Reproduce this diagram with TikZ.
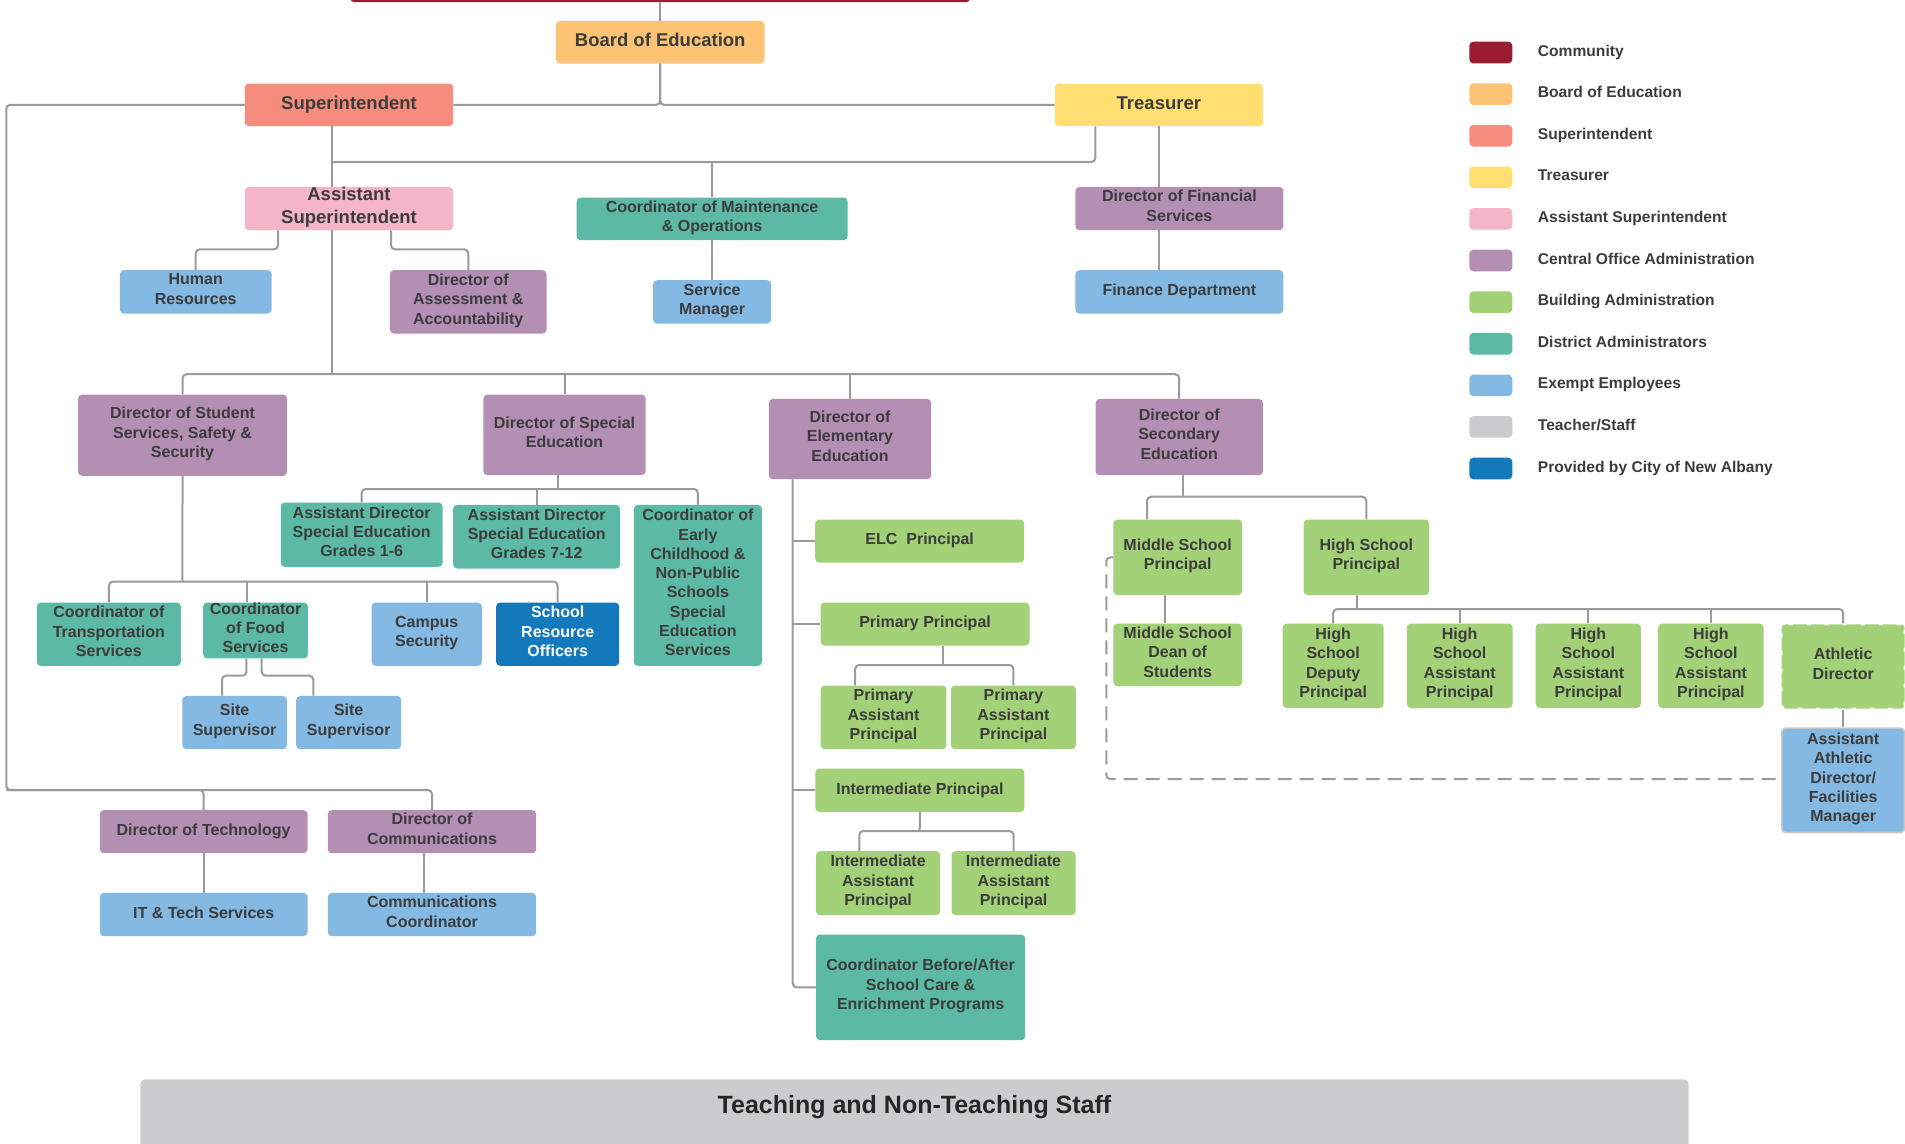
\documentclass[tikz,border=0pt]{standalone}
\usepackage{fontspec}
\setmainfont{Liberation Sans}
\usetikzlibrary{calc}
\definecolor{ccomm}{HTML}{9B1B30}
\definecolor{cboard}{HTML}{FCC374}
\definecolor{csup}{HTML}{F58C7E}
\definecolor{ctre}{HTML}{FFDF71}
\definecolor{casst}{HTML}{F4B6C7}
\definecolor{ccent}{HTML}{B28FB3}
\definecolor{cbld}{HTML}{A3D177}
\definecolor{cdist}{HTML}{5CB9A5}
\definecolor{cex}{HTML}{84B9E3}
\definecolor{cteach}{HTML}{CBCCCD}
\definecolor{ccity}{HTML}{1379BB}
\definecolor{lgray}{HTML}{9A9A9C}
\definecolor{txt}{HTML}{3C3C3C}
\newcommand\ob[7]{\pgfmathsetmacro\obw{#5-#3}\pgfmathsetmacro\obh{#6-#4}%
  \node[box,#2,minimum width=\obw pt,minimum height=\obh pt,anchor=north west] (#1) at (#3,#4) {#7};}
\begin{document}
\begin{tikzpicture}[x=1pt,y=-1pt,
  box/.style={rounded corners=4pt,inner sep=0pt,align=center,text=txt,font=\fontsize{16}{19.3}\selectfont\bfseries,
    execute at begin node=\strut, execute at end node=\strut},
  big/.style={font=\fontsize{18.5}{22.3}\selectfont\bfseries},
  conn/.style={draw=lgray,line width=2pt,rounded corners=4pt},
  dashline/.style={draw=lgray,line width=2pt,rounded corners=4pt,dash pattern=on 14pt off 8pt},
  legtxt/.style={anchor=west,inner sep=0pt,text=txt,font=\fontsize{15.6}{18}\selectfont\bfseries,
    execute at begin node=\strut}]
\useasboundingbox (0,0) rectangle (1905,1143);
% community bar
\node[fill=ccomm,rounded corners=4pt,inner sep=0pt,minimum width=620pt,minimum height=8pt,anchor=north west] (comm) at (350,-6) {};
% top level
\ob{board}{fill=cboard,big}{555.7}{20.7}{764.3}{63.3}{Board of Education}
\ob{sup}{fill=csup,big}{244.6}{83.3}{453}{126}{Superintendent}
\ob{tre}{fill=ctre,big}{1054.6}{83.3}{1262.7}{126}{Treasurer}
\ob{asup}{fill=casst,big}{244.6}{186.7}{453}{230}{Assistant\\Superintendent}
\ob{maint}{fill=cdist}{576.3}{197.3}{847.5}{240}{Coordinator of Maintenance\\\& Operations}
\ob{dirfin}{fill=ccent}{1075.2}{186.7}{1283.2}{230}{Director of Financial\\Services}
\ob{hr}{fill=cex}{119.6}{270}{271.4}{313.3}{Human\\Resources}
\ob{dira}{fill=ccent}{389.7}{270}{546.4}{333.3}{Director of\\Assessment \&\\Accountability}
\ob{svc}{fill=cex}{652.8}{280}{771}{323.3}{Service\\Manager}
\ob{fin}{fill=cex}{1075.2}{270}{1283.2}{313.3}{Finance Department}
% directors
\ob{dss}{fill=ccent}{78}{394.3}{286.7}{475.7}{Director of Student\\Services, Safety \&\\Security}
\ob{dsped}{fill=ccent}{483.2}{394.3}{645.4}{475}{Director of Special\\Education}
\ob{delem}{fill=ccent}{768.6}{398.7}{931}{479}{Director of\\Elementary\\Education}
\ob{dsec}{fill=ccent}{1095.3}{398.7}{1262.7}{475}{Director of\\Secondary\\Education}
% special ed / student services
\ob{ad16}{fill=cdist}{280.6}{502.3}{442.3}{566.7}{Assistant Director\\Special Education\\Grades 1-6}
\ob{ad712}{fill=cdist}{453}{504.7}{619.9}{568.3}{Assistant Director\\Special Education\\Grades 7-12}
\ob{ec}{fill=cdist}{633.7}{504.7}{761.7}{665.7}{Coordinator of\\Early\\Childhood \&\\Non-Public\\Schools\\Special\\Education\\Services}
\ob{trans}{fill=cdist}{36.7}{602.3}{180.6}{665.7}{Coordinator of\\Transportation\\Services}
\ob{food}{fill=cdist}{203}{602.3}{307.7}{655.7}{Coordinator\\of Food\\Services}
\ob{camp}{fill=cex}{371.4}{602.3}{481.6}{665.7}{Campus\\Security}
\ob{sro}{fill=ccity,text=white}{496}{602.3}{619}{665.7}{School\\Resource\\Officers}
\ob{site1}{fill=cex}{182.1}{695.7}{286.7}{749}{Site\\Supervisor}
\ob{site2}{fill=cex}{296}{695.7}{401}{749}{Site\\Supervisor}
% elementary
\ob{elc}{fill=cbld}{815}{519.3}{1024}{562.3}{ELC~~Principal}
\ob{prim}{fill=cbld}{820.4}{602.3}{1029.3}{645.3}{Primary Principal}
\ob{pap1}{fill=cbld}{820.4}{685.3}{946.2}{749}{Primary\\Assistant\\Principal}
\ob{pap2}{fill=cbld}{950.7}{685.3}{1075.7}{749}{Primary\\Assistant\\Principal}
\ob{int}{fill=cbld}{815.2}{768.3}{1024.2}{811.7}{Intermediate Principal}
\ob{iap1}{fill=cbld}{815.8}{851}{940}{915}{Intermediate\\Assistant\\Principal}
\ob{iap2}{fill=cbld}{951.3}{851}{1075.4}{915}{Intermediate\\Assistant\\Principal}
\ob{cba}{fill=cdist}{815.8}{934.3}{1025}{1040}{Coordinator Before/After\\School Care \&\\Enrichment Programs}
% secondary
\ob{msp}{fill=cbld}{1113.2}{519.3}{1241.8}{595}{Middle School\\Principal}
\ob{hsp}{fill=cbld}{1303.4}{519.3}{1428.8}{595}{High School\\Principal}
\ob{msd}{fill=cbld}{1113.2}{623.3}{1241.8}{686}{Middle School\\Dean of\\Students}
\ob{hsd}{fill=cbld}{1282.5}{623.3}{1383.5}{707.7}{High\\School\\Deputy\\Principal}
\ob{hs1}{fill=cbld}{1406.6}{623.3}{1512.4}{707.7}{High\\School\\Assistant\\Principal}
\ob{hs2}{fill=cbld}{1535.5}{623.3}{1640.7}{707.7}{High\\School\\Assistant\\Principal}
\ob{hs3}{fill=cbld}{1658}{623.3}{1763.3}{707.7}{High\\School\\Assistant\\Principal}
\ob{ad}{fill=cbld,draw=white,line width=2pt,dash pattern=on 4pt off 14pt}{1780.6}{623.3}{1903.7}{707.7}{Athletic\\Director}
\ob{aad}{fill=cex,draw=black!22,line width=1.6pt}{1781}{727.3}{1903.7}{831.7}{Assistant\\Athletic\\Director/\\Facilities\\Manager}
% technology / communications
\ob{dtech}{fill=ccent}{99.6}{810}{307.3}{853}{Director of Technology}
\ob{dcomm}{fill=ccent}{327.6}{810}{536}{853}{Director of\\Communications}
\ob{it}{fill=cex}{99.6}{892.7}{307.3}{936}{IT \& Tech Services}
\ob{cc}{fill=cex}{327.6}{892.7}{536}{936}{Communications\\Coordinator}
% staff bar
\fill[cteach,rounded corners=5pt] (140.3,1079.3) rectangle (1688.7,1165);
\node[text=black!85,font=\fontsize{25}{30}\selectfont\bfseries] (staff) at (914.5,1107.5) {Teaching and Non-Teaching Staff};
% legend
\foreach \c/\t [count=\i from 0] in {ccomm/{Community},cboard/{Board of Education},csup/{Superintendent},ctre/{Treasurer},casst/{Assistant Superintendent},ccent/{Central Office Administration},cbld/{Building Administration},cdist/{District Administrators},cex/{Exempt Employees},cteach/{Teacher/Staff},ccity/{Provided by City of New Albany}}{
  \pgfmathsetmacro\ly{52.5+41.6*\i}
  \node[fill=\c,rounded corners=4pt,minimum width=43pt,minimum height=21.6pt,inner sep=0pt] (lg\i) at (1490.8,\ly) {};
  \node[legtxt] (lt\i) at (1537.7,\ly) {\t};
}
% junction coordinates
\coordinate (jA) at (331.7,162);
\coordinate (jT) at (1095.3,162);
\coordinate (jB) at (331.7,374.2);
\coordinate (jH) at (278,249.3);
\coordinate (jD) at (391,249.3);
\coordinate (jL) at (6.25,790);
\coordinate (jC) at (423.7,0);
\coordinate (jS) at (182.35,581.7);
\coordinate (xFood) at (247.4,0);
\coordinate (jF1) at (246.4,675.7);
\coordinate (jF2) at (261.7,675.7);
\coordinate (xS1) at (222,0);
\coordinate (xS2) at (313.3,0);
\coordinate (jSP) at (557.7,489);
\coordinate (jE) at (792.7,0);
\coordinate (jP) at (942.7,665);
\coordinate (xPA) at (855.2,0);
\coordinate (jI) at (919.7,831);
\coordinate (xIA) at (859.3,0);
\coordinate (jSec) at (1183.3,496.7);
\coordinate (xMS) at (1147.1,0);
\coordinate (jMD) at (1165.4,0);
\coordinate (jHS) at (1356.7,609);
\coordinate (jDash) at (1106.3,779);
% connectors
\draw[conn] (comm.south) -- (board.north);
\draw[conn] (board.south) |- (sup.east);
\draw[conn] (board.south) |- (tre.west);
\draw[conn] (sup.west) -| (jL) -| (dcomm.north);
\draw[conn] (dtech.north) |- (jL);
\draw[conn] (dtech.south) -- (it.north);
\draw[conn] (dcomm.south -| jC) -- (cc.north -| jC);
\draw[conn] (sup.south -| jA) -- (asup.north -| jA);
\draw[conn] (jA) -- (jT) -- (tre.south -| jT);
\draw[conn] (maint.north) -- (maint.north |- jA);
\draw[conn] (maint.south) -- (svc.north);
\draw[conn] (tre.south) -- (tre.south |- dirfin.north);
\draw[conn] (dirfin.south -| tre.south) -- (fin.north -| tre.south);
\draw[conn] (asup.south -| jH) -- (jH) -| (hr.north);
\draw[conn] (asup.south -| jD) -- (jD) -| (dira.north);
\draw[conn] (asup.south -| jB) -- (jB);
\draw[conn] (dss.north) |- (jB) -- (jB -| dsec.north) -- (dsec.north);
\draw[conn] (dsped.north) -- (dsped.north |- jB);
\draw[conn] (delem.north) -- (delem.north |- jB);
\draw[conn] (dss.south) -- (jS);
\draw[conn] (trans.north) |- (jS) -- (jS -| sro.north) -- (sro.north);
\draw[conn] (food.north -| xFood) -- (jS -| xFood);
\draw[conn] (camp.north) -- (camp.north |- jS);
\draw[conn] (food.south -| jF1) -- (jF1) -| (site1.north -| xS1);
\draw[conn] (food.south -| jF2) -- (jF2) -| (site2.north -| xS2);
\draw[conn] (dsped.south -| jSP) -- (jSP);
\draw[conn] (ad16.north) |- (jSP) -- (jSP -| ec.north) -- (ec.north);
\draw[conn] (ad712.north) -- (ad712.north |- jSP);
\draw[conn] (delem.south -| jE) |- (cba.west);
\draw[conn] (jE |- elc.west) -- (elc.west);
\draw[conn] (jE |- prim.west) -- (prim.west);
\draw[conn] (jE |- int.west) -- (int.west);
\draw[conn] (prim.south -| jP) -- (jP);
\draw[conn] (pap1.north -| xPA) |- (jP) -- (jP -| pap2.north) -- (pap2.north);
\draw[conn] (int.south) -- (jI);
\draw[conn] (iap1.north -| xIA) |- (jI) -- (jI -| iap2.north) -- (iap2.north);
\draw[conn] (dsec.south -| jSec) -- (jSec);
\draw[conn] (msp.north -| xMS) |- (jSec) -- (jSec -| hsp.north) -- (hsp.north);
\draw[conn] (msp.south -| jMD) -- (msd.north -| jMD);
\draw[conn] (hsp.south -| jHS) -- (jHS);
\draw[conn] (hsd.north) |- (jHS) -- (jHS -| ad.north) -- (ad.north);
\draw[conn] (hs1.north) -- (hs1.north |- jHS);
\draw[conn] (hs2.north) -- (hs2.north |- jHS);
\draw[conn] (hs3.north) -- (hs3.north |- jHS);
\draw[conn] (ad.south) -- (aad.north);
\draw[dashline] (msp.west) -| (jDash) -- (jDash -| aad.west);
\end{tikzpicture}
\end{document}
